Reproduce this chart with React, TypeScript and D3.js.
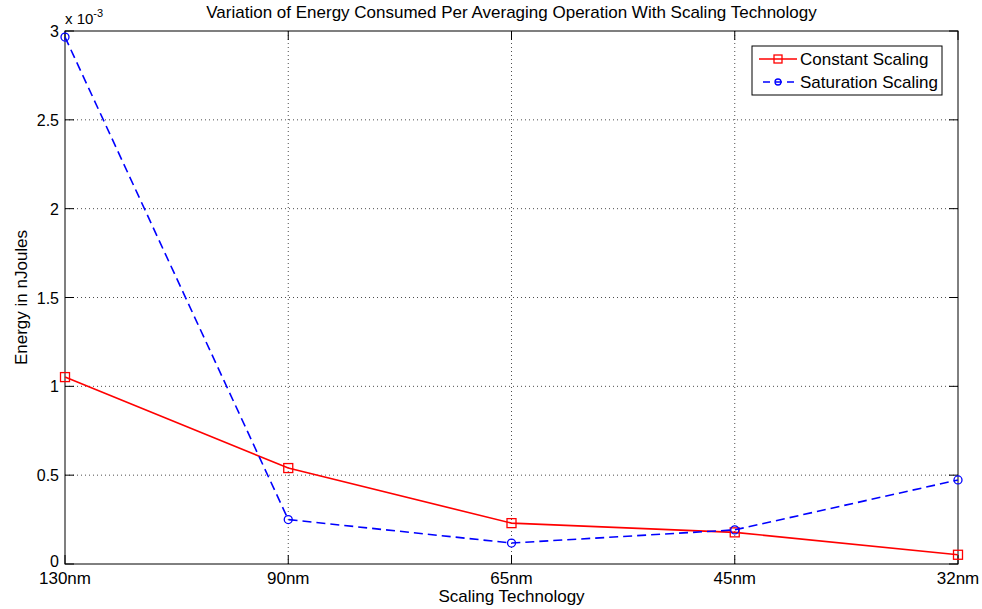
import React from "react";
import * as d3 from "d3";

const categories = ["130nm", "90nm", "65nm", "45nm", "32nm"];
const constantScaling = [1.052e-3, 0.54e-3, 0.23e-3, 0.178e-3, 0.052e-3];
const saturationScaling = [2.966e-3, 0.25e-3, 0.118e-3, 0.192e-3, 0.473e-3];
const yTicks = [0, 0.5e-3, 1e-3, 1.5e-3, 2e-3, 2.5e-3, 3e-3];

const W = 982;
const H = 609;
const M = { left: 65, right: 24, top: 31, bottom: 45 };
const FONT = "'Liberation Sans', Arial, Helvetica, sans-serif";

export default function App() {
  const x = d3
    .scalePoint<string>()
    .domain(categories)
    .range([M.left, W - M.right]);
  const y = d3
    .scaleLinear()
    .domain([0, 3e-3])
    .range([H - M.bottom, M.top]);

  const line = d3
    .line<number>()
    .x((_, i) => x(categories[i]) as number)
    .y((d) => y(d));

  const x0 = M.left;
  const x1 = W - M.right;
  const y0 = H - M.bottom;
  const y1 = M.top;

  return (
    <svg
      width={W}
      height={H}
      style={{ position: "absolute", left: 0, top: 0, background: "#fff" }}
      fontFamily={FONT}
    >
      <rect x={0} y={0} width={W} height={H} fill="#fff" />
      {/* grid */}
      {categories.slice(1, -1).map((c) => (
        <line
          key={"gx" + c}
          x1={x(c)}
          x2={x(c)}
          y1={y0}
          y2={y1}
          stroke="#000"
          strokeWidth={0.7}
          strokeDasharray="1,3"
        />
      ))}
      {yTicks.slice(1, -1).map((t) => (
        <line
          key={"gy" + t}
          x1={x0}
          x2={x1}
          y1={y(t)}
          y2={y(t)}
          stroke="#000"
          strokeWidth={0.7}
          strokeDasharray="1,3"
        />
      ))}
      {/* ticks */}
      {categories.map((c) => (
        <g key={"tx" + c}>
          <line x1={x(c)} x2={x(c)} y1={y0} y2={y0 - 9} stroke="#000" />
          <line x1={x(c)} x2={x(c)} y1={y1} y2={y1 + 9} stroke="#000" />
          <text
            x={x(c)}
            y={y0 + 20}
            textAnchor="middle"
            fontSize={17}
            fill="#000"
          >
            {c}
          </text>
        </g>
      ))}
      {yTicks.map((t) => (
        <g key={"ty" + t}>
          <line x1={x0} x2={x0 + 9} y1={y(t)} y2={y(t)} stroke="#000" />
          <line x1={x1} x2={x1 - 9} y1={y(t)} y2={y(t)} stroke="#000" />
          <text
            x={x0 - 6}
            y={y(t) + (t === 0 ? 3 : 6)}
            textAnchor="end"
            fontSize={16}
            fill="#000"
          >
            {d3.format("~g")(t * 1000)}
          </text>
        </g>
      ))}
      {/* axes box */}
      <rect
        x={x0}
        y={y1}
        width={x1 - x0}
        height={y0 - y1}
        fill="none"
        stroke="#000"
        strokeWidth={1}
      />
      {/* exponent */}
      <text x={x0} y={y1 - 7} fontSize={15} fill="#000">
        x 10
        <tspan dy={-7} fontSize={11}>
          -3
        </tspan>
      </text>
      {/* series */}
      <path
        d={line(constantScaling) || ""}
        fill="none"
        stroke="#ff0000"
        strokeWidth={1.6}
      />
      {constantScaling.map((v, i) => (
        <rect
          key={"cs" + i}
          x={(x(categories[i]) as number) - 4.5}
          y={y(v) - 4.5}
          width={9}
          height={9}
          fill="none"
          stroke="#ff0000"
          strokeWidth={1.3}
        />
      ))}
      <path
        d={line(saturationScaling) || ""}
        fill="none"
        stroke="#0000ff"
        strokeWidth={1.6}
        strokeDasharray="9,5"
      />
      {saturationScaling.map((v, i) => (
        <circle
          key={"ss" + i}
          cx={x(categories[i]) as number}
          cy={y(v)}
          r={4}
          fill="none"
          stroke="#0000ff"
          strokeWidth={1.3}
        />
      ))}
      {/* legend */}
      <g>
        <rect
          x={752}
          y={46}
          width={190}
          height={49}
          fill="#fff"
          stroke="#000"
          strokeWidth={1}
        />
        <line x1={759} x2={797} y1={59} y2={59} stroke="#ff0000" strokeWidth={1.6} />
        <rect x={774} y={55} width={8} height={8} fill="none" stroke="#ff0000" strokeWidth={1.3} />
        <text x={800} y={65} fontSize={17} fill="#000">
          Constant Scaling
        </text>
        <line
          x1={763}
          x2={797}
          y1={82}
          y2={82}
          stroke="#0000ff"
          strokeWidth={1.6}
          strokeDasharray="7,5"
        />
        <circle cx={778} cy={82} r={3} fill="none" stroke="#0000ff" strokeWidth={1.3} />
        <text x={800} y={88} fontSize={17} fill="#000">
          Saturation Scaling
        </text>
      </g>
      {/* titles */}
      <text
        x={(x0 + x1) / 2}
        y={18}
        textAnchor="middle"
        fontSize={17}
        fill="#000"
      >
        Variation of Energy Consumed Per Averaging Operation With Scaling Technology
      </text>
      <text
        x={(x0 + x1) / 2}
        y={602}
        textAnchor="middle"
        fontSize={17}
        fill="#000"
      >
        Scaling Technology
      </text>
      <text
        transform={`translate(27, ${(y0 + y1) / 2}) rotate(-90)`}
        textAnchor="middle"
        fontSize={17}
        fill="#000"
      >
        Energy in nJoules
      </text>
    </svg>
  );
}
